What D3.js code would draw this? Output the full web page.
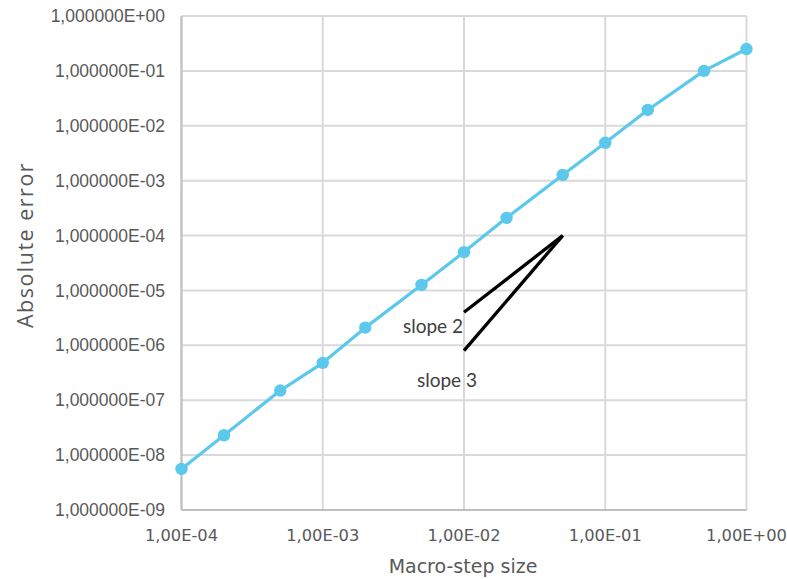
<!DOCTYPE html>
<html><head><meta charset="utf-8">
<script src="https://cdn.jsdelivr.net/npm/d3@7"></script>
<style>body{margin:0;background:#fff}svg{display:block}</style>
</head><body>
<svg id="c" width="787" height="579"></svg>
<script>
const stepSizes = [1e-4, 2e-4, 5e-4, 1e-3, 2e-3, 5e-3, 1e-2, 2e-2, 5e-2, 1e-1, 2e-1, 5e-1, 1];
const absErrors = [5.6e-9, 2.3e-8, 1.5e-7, 4.8e-7, 2.1e-6, 1.26e-5, 5.0e-5, 2.1e-4, 1.27e-3, 4.9e-3, 1.94e-2, 1.0e-1, 2.5e-1];
const slope2 = [[1e-2, 4e-6], [5e-2, 1e-4]];
const slope3 = [[1e-2, 8e-7], [5e-2, 1e-4]];
const xTicks = [1e-4, 1e-3, 1e-2, 1e-1, 1];
const xTickLabels = ["1,00E-04", "1,00E-03", "1,00E-02", "1,00E-01", "1,00E+00"];
const yTicks = [1, 1e-1, 1e-2, 1e-3, 1e-4, 1e-5, 1e-6, 1e-7, 1e-8, 1e-9];
const yTickLabels = ["1,000000E+00","1,000000E-01","1,000000E-02","1,000000E-03","1,000000E-04","1,000000E-05","1,000000E-06","1,000000E-07","1,000000E-08","1,000000E-09"];
const slopeLabels = ["slope 2", "slope 3"];

const L = 181.5, R = 746.5, T = 16, B = 510;
const svg = d3.select("#c");
const x = d3.scaleLog().domain([1e-4, 1]).range([L, R]);
const y = d3.scaleLog().domain([1e-9, 1]).range([B, T]);

// gridlines
const g = svg.append("g");
g.selectAll("line.v").data(xTicks).join("line")
  .attr("x1", d => x(d)).attr("x2", d => x(d)).attr("y1", T).attr("y2", B)
  .attr("stroke", "#d9d9d9").attr("stroke-width", 2);
g.selectAll("line.h").data(yTicks).join("line")
  .attr("x1", L).attr("x2", R).attr("y1", d => y(d)).attr("y2", d => y(d))
  .attr("stroke", "#d9d9d9").attr("stroke-width", 2);
// axis lines
svg.append("line").attr("x1", L).attr("x2", L).attr("y1", T).attr("y2", B).attr("stroke", "#bfbfbf").attr("stroke-width", 2);
svg.append("line").attr("x1", L).attr("x2", R).attr("y1", B).attr("y2", B).attr("stroke", "#bfbfbf").attr("stroke-width", 2);

// tick labels
svg.append("g").selectAll("text").data(yTicks).join("text")
  .attr("x", 165).attr("y", d => y(d)).attr("dy", "0.35em")
  .attr("text-anchor", "end").attr("fill", "#595959")
  .style("font-family", "'Liberation Sans', Arial, sans-serif").style("font-size", "17.5px")
  .text((d, i) => yTickLabels[i]);
svg.append("g").selectAll("text").data(xTicks).join("text")
  .attr("x", d => x(d)).attr("y", 541)
  .attr("text-anchor", "middle").attr("fill", "#595959")
  .style("font-family", "'DejaVu Sans', sans-serif").style("font-size", "16.3px")
  .text((d, i) => xTickLabels[i]);

// axis titles
svg.append("text").attr("x", 463).attr("y", 573).attr("text-anchor", "middle")
  .attr("fill", "#595959").style("font-family", "'DejaVu Sans', sans-serif").style("font-size", "19px")
  .text("Macro-step size");
svg.append("text").attr("transform", "translate(33,245) rotate(-90)").attr("text-anchor", "middle")
  .attr("fill", "#595959").style("font-family", "'Open Sans', sans-serif").style("font-size", "21.5px")
  .style("letter-spacing", "1.5px")
  .text("Absolute error");

// series
const line = d3.line().x(d => x(d[0])).y(d => y(d[1]));
const pts = stepSizes.map((s, i) => [s, absErrors[i]]);
svg.append("path").datum(pts).attr("d", line).attr("fill", "none")
  .attr("stroke", "#5bc8ec").attr("stroke-width", 3.2).attr("stroke-linejoin", "round");
svg.append("g").selectAll("circle").data(pts).join("circle")
  .attr("cx", d => x(d[0])).attr("cy", d => y(d[1])).attr("r", 6.2).attr("fill", "#5bc8ec");

// slope lines
[slope2, slope3].forEach(s => {
  svg.append("path").datum(s).attr("d", line).attr("fill", "none")
    .attr("stroke", "#000").attr("stroke-width", 3.3).attr("stroke-linecap", "butt");
});
const labelPos = [[463, 333], [477, 387]];
svg.append("g").selectAll("text").data(slopeLabels).join("text")
  .attr("x", (d, i) => labelPos[i][0]).attr("y", (d, i) => labelPos[i][1])
  .attr("text-anchor", "end").attr("fill", "#404040")
  .style("font-family", "Lato, sans-serif").style("font-size", "19px")
  .text(d => d);
</script>
</body></html>
